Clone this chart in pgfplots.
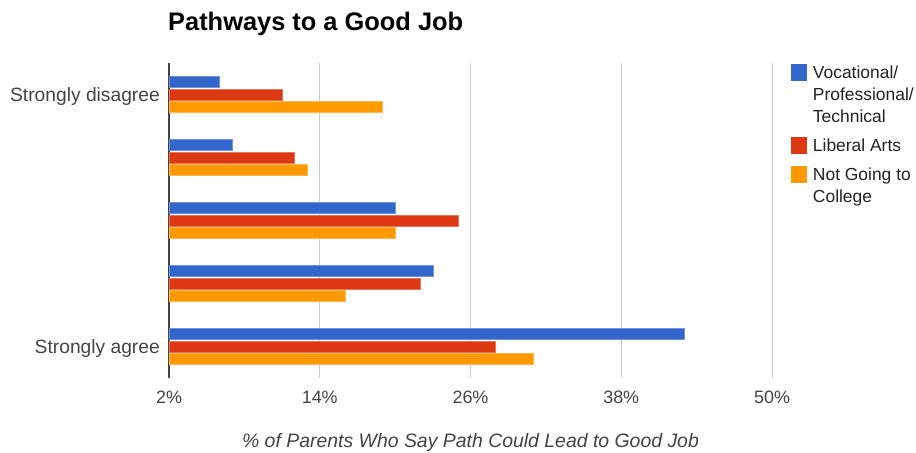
\documentclass[border=0pt]{standalone}
\usepackage{pgfplots}
\pgfplotsset{compat=1.18}
\usepackage{pgfplotstable}
\usepackage{fontspec}
\setmainfont{Liberation Sans}
\definecolor{cblue}{HTML}{3366CC}
\definecolor{cred}{HTML}{DC3912}
\definecolor{corange}{HTML}{FF9900}
\definecolor{gridc}{HTML}{CCCCCC}
\definecolor{tickc}{HTML}{444444}
\definecolor{legc}{HTML}{222222}

\pgfplotstableread{
pos voc lib notc
0 6 11 19
1 7 12 13
2 20 25 20
3 23 22 16
4 43 28 31
}\datatable

\begin{document}
\begin{tikzpicture}
\path[use as bounding box] (0,0) rectangle (916bp,453bp);
\node[anchor=base west, font=\bfseries\fontsize{25.5}{30}\selectfont, text=black, inner sep=0pt] at (168bp,422bp) {Pathways to a Good Job};
\begin{axis}[
  at={(169bp,75bp)}, anchor=south west,
  scale only axis, width=603bp, height=315bp,
  xbar, bar width=11bp,
  xmin=2, xmax=50, ymin=-0.5, ymax=4.5, y dir=reverse,
  axis line style={draw=none},
  major tick length=0pt,
  xtick={14,26,38,50},
  xticklabel={\pgfmathprintnumber{\tick}\%},
  extra x ticks={2},
  extra x tick labels={2\%},
  extra x tick style={grid style={color=tickc, line width=1.3bp}},
  xmajorgrids,
  grid style={gridc, line width=1bp},
  ytick={0,4},
  yticklabels={Strongly disagree, Strongly agree},
  /pgf/number format/assume math mode=true,
  tick label style={font=\fontsize{18}{22}\selectfont, text=tickc},
  xticklabel style={anchor=base, yshift=-25bp},
  yticklabel style={anchor=base east, inner sep=0pt, xshift=-9bp, yshift=-7bp, font=\fontsize{19.3}{22}\selectfont},
  xlabel={\itshape \% of Parents Who Say Path Could Lead to Good Job},
  xlabel style={at={(axis description cs:0.5,0)}, anchor=base, yshift=-69bp, font=\fontsize{19.5}{22}\selectfont, text=tickc},
  legend style={at={(axis description cs:1.0270,1.003)}, anchor=north west, draw=none, fill=none,
    font=\fontsize{17.5}{22}\selectfont, text=legc, row sep=13bp, column sep=6bp,
    nodes={inner sep=0pt, align=left}, cells={anchor=base west}},
]
\addplot[fill=cblue, draw=cblue!70!white, line width=0.5bp, bar shift=12.7bp,
  legend image code/.code={\fill[cblue] (0bp,42bp) rectangle (15bp,58bp);}]
  table[x=voc, y=pos] {\datatable};
\addlegendentry{Vocational/\\Professional/\\Technical}
\addplot[fill=cred, draw=cred!70!white, line width=0.5bp, bar shift=0bp,
  legend image code/.code={\fill[cred] (0bp,-2bp) rectangle (15bp,14bp);}]
  table[x=lib, y=pos] {\datatable};
\addlegendentry{Liberal Arts}
\addplot[fill=corange, draw=corange!70!white, line width=0.5bp, bar shift=-12.7bp,
  legend image code/.code={\fill[corange] (0bp,20bp) rectangle (15bp,36bp);}]
  table[x=notc, y=pos] {\datatable};
\addlegendentry{Not Going to\\College}
\end{axis}
\end{tikzpicture}
\end{document}
